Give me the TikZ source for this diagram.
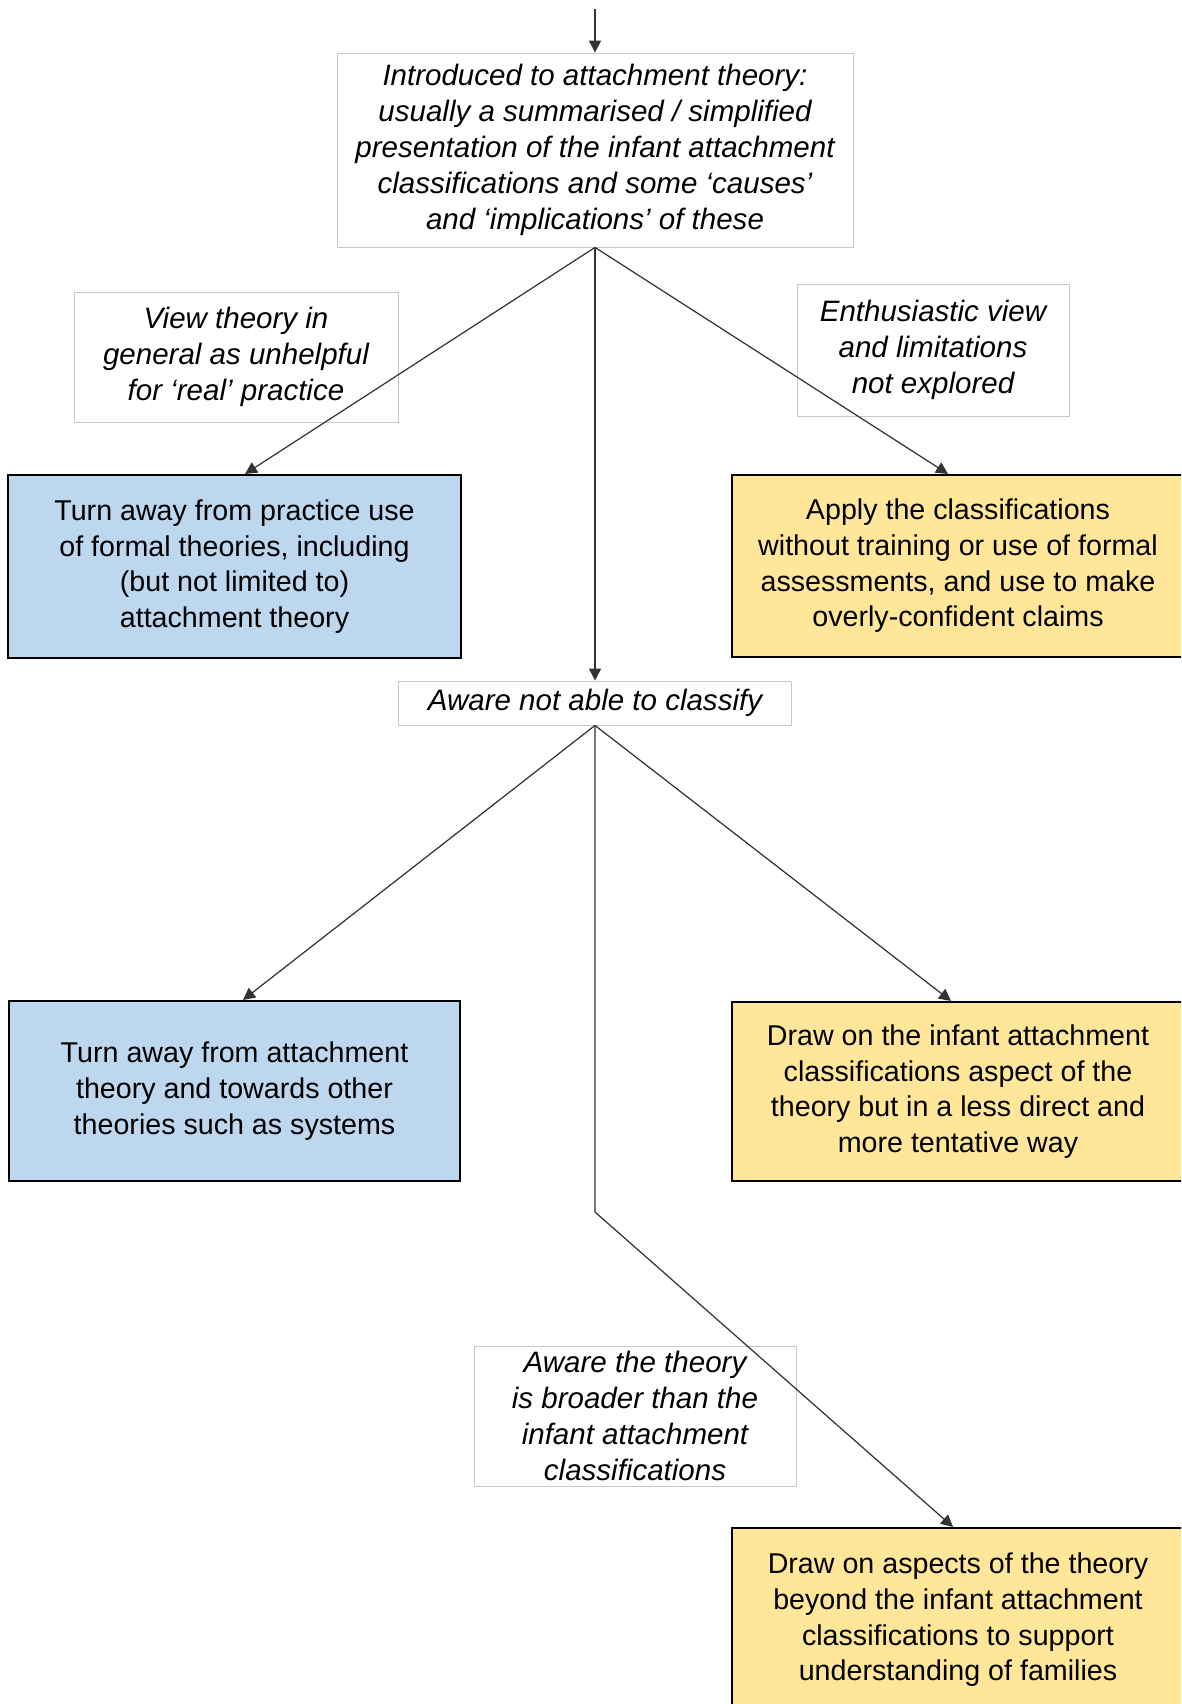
\documentclass[tikz,border=0pt]{standalone}
\usepackage{fontspec}
\setmainfont{Liberation Sans}
\usetikzlibrary{arrows.meta, positioning}
\definecolor{boxblue}{HTML}{BDD7EE}
\definecolor{boxyellow}{HTML}{FFE699}
\definecolor{notegray}{HTML}{C8C8C8}

\begin{document}
\begin{tikzpicture}[
    x=0.02cm, y=-0.02cm,
    every node/.style={font=\fontsize{16.3}{20.3}\selectfont, align=center, inner sep=0pt},
    note/.style={draw=notegray, line width=0.5pt, font=\fontsize{16.8}{20.5}\selectfont\itshape},
    bluebox/.style={draw, line width=1.2pt, fill=boxblue},
    yellowbox/.style={draw, line width=1.2pt, fill=boxyellow},
    arrowstyle/.style={-{Triangle[length=2.4mm, width=2.4mm]}, line width=0.7pt, black!80},
]
    \clip (0,0) rectangle (1181,1704);

    % Starting point and first step
    \coordinate (start) at (595,9);
    \node[note, minimum width=10.32cm, minimum height=3.88cm] (intro) at (595,150)
        {Introduced to attachment theory:\\ usually a summarised / simplified\\ presentation of the infant attachment\\ classifications and some ‘causes’\\ and ‘implications’ of these};

    % Comments on the first branches
    \node[note, minimum width=6.48cm, minimum height=2.6cm] (unhelpful) at (236,357)
        {View theory in\\ general as unhelpful\\ for ‘real’ practice};
    \node[note, minimum width=5.44cm, minimum height=2.64cm] (enthusiastic) at (933,350)
        {Enthusiastic view\\ and limitations\\ not explored};

    % First outcomes
    \node[bluebox, minimum width=9.06cm, minimum height=3.66cm] (turnaway) at (234.5,566.5)
        {Turn away from practice use\\ of formal theories, including\\ (but not limited to)\\ attachment theory};
    \node[yellowbox, minimum width=9.04cm, minimum height=3.64cm] (apply) at (958,566)
        {Apply the classifications\\ without training or use of formal\\ assessments, and use to make\\ overly-confident claims};

    % Middle step
    \node[note, minimum width=7.86cm, minimum height=0.88cm] (aware) at (595,703)
        {Aware not able to classify};

    % Second outcomes
    \node[bluebox, minimum width=9.02cm, minimum height=3.6cm] (systems) at (234.5,1091)
        {Turn away from attachment\\ theory and towards other\\ theories such as systems};
    \node[yellowbox, minimum width=9.04cm, minimum height=3.58cm] (tentative) at (958,1091.5)
        {Draw on the infant attachment\\ classifications aspect of the\\ theory but in a less direct and\\ more tentative way};

    \node[note, minimum width=6.44cm, minimum height=2.8cm] (broader) at (635,1416)
        {Aware the theory\\ is broader than the\\ infant attachment\\ classifications};
    \node[yellowbox, minimum width=9.04cm, minimum height=3.68cm] (beyond) at (958,1620)
        {Draw on aspects of the theory\\ beyond the infant attachment\\ classifications to support\\ understanding of families};

    % Connectors
    \draw[arrowstyle] (start) -- (intro.north);
    \draw[arrowstyle] (intro.south) -- ([xshift=0.21cm]turnaway.north);
    \draw[arrowstyle] (intro.south) -- ([xshift=-0.2cm]apply.north);
    \draw[arrowstyle] (intro.south) -- (aware.north);

    \draw[arrowstyle] (aware.south) -- ([xshift=0.17cm]systems.north);
    \draw[arrowstyle] (aware.south) -- ([xshift=-0.14cm]tentative.north);
    \coordinate (bend) at (595,1212);
    \draw[arrowstyle] (aware.south) -- (bend) -- ([xshift=-0.1cm]beyond.north);

\end{tikzpicture}
\end{document}
